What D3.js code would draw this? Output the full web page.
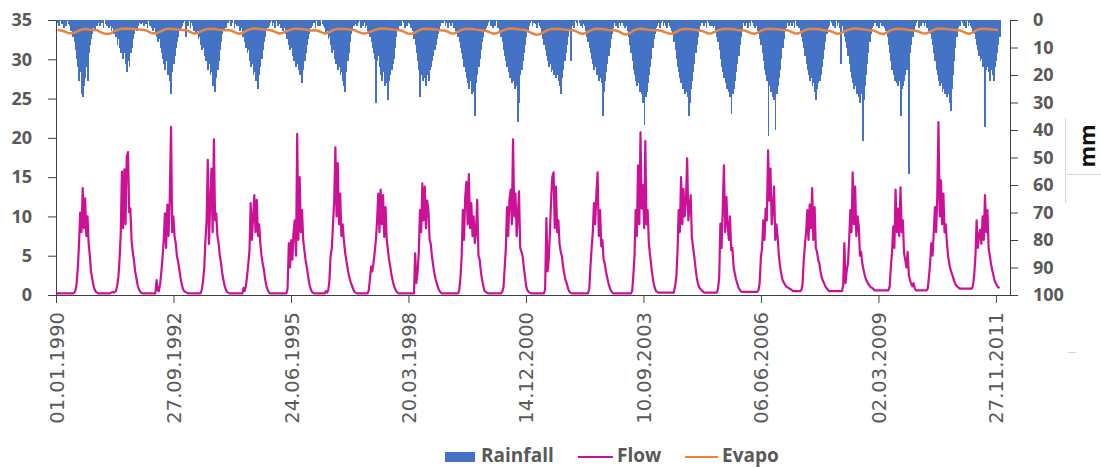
<!DOCTYPE html>
<html>
<head>
<meta charset="utf-8">
<script src="https://cdn.jsdelivr.net/npm/d3@7"></script>
<style>
  body { margin: 0; background: #fff; }
  svg { display: block; }
</style>
</head>
<body>
<div id="chart"></div>
<script>
// years of record, each year split in 36 dekads (1-10, 11-20, 21-end of month)
const years = [1990, 1991, 1992, 1993, 1994, 1995, 1996, 1997, 1998, 1999, 2000,
               2001, 2002, 2003, 2004, 2005, 2006, 2007, 2008, 2009, 2010, 2011];

// x axis tick labels (every 1000 days from 01.01.1990)
const xTickLabels = ['01.01.1990', '27.09.1992', '24.06.1995', '20.03.1998', '14.12.2000',
                     '10.09.2003', '06.06.2006', '02.03.2009', '27.11.2011'];
const flowTicks = [0, 5, 10, 15, 20, 25, 30, 35];
const rainTicks = [0, 10, 20, 30, 40, 50, 60, 70, 80, 90, 100];

// Flow (left axis), one value per dekad
const flowDekad = [
  [0.2,0.2,0.2,0.2,0.2,0.2,0.2,0.2,0.2,0.2,0.2,0.2,0.2,0.2,0.2,0.3,0.6,1.5,3.5,6.5,10.5,8,13.6,8.5,12.3,7.5,10,6.5,5,3,2,1.2,0.7,0.4,0.3,0.2],
  [0.2,0.2,0.2,0.2,0.2,0.2,0.2,0.2,0.2,0.2,0.3,0.4,0.3,0.4,0.5,1.2,2.3,4.5,7.8,15.7,8.5,16,9,17.6,18.2,10.5,11,7,5.5,4.5,3,2.2,1.3,0.8,0.5,0.3],
  [0.2,0.2,0.2,0.2,0.2,0.2,0.2,0.2,0.2,0.2,0.2,0.2,1.9,0.6,0.5,1.5,3,4.8,7,10.4,6,11.5,7.5,12.1,21.4,8,10,7.5,6.6,5,4.2,3.2,2.2,1.4,0.8,0.5],
  [0.4,0.3,0.2,0.2,0.2,0.2,0.2,0.2,0.2,0.2,0.2,0.2,0.2,0.2,0.7,1.8,3.5,7,9.5,17.2,6.5,12,16.1,8,19.8,9.5,10.4,7.5,6.6,5,4,2.8,1.9,1.2,0.7,0.4],
  [0.3,0.2,0.2,0.2,0.2,0.2,0.2,0.2,0.2,0.2,0.2,0.2,0.2,0.9,0.5,1.2,2.5,4,5.7,11.7,7,10,12.7,8,12.1,7.5,9,6.6,5,4,3.2,2,1.2,0.7,0.4,0.2],
  [0.2,0.2,0.2,0.2,0.2,0.2,0.2,0.2,0.2,0.2,0.2,0.2,0.2,0.2,0.8,6.6,3.5,7,4.5,8,9.5,5,20.5,7,15,8,10.8,7,5.7,4.5,3.5,2.5,1.5,0.9,0.5,0.3],
  [0.2,0.2,0.2,0.2,0.2,0.2,0.2,0.2,0.2,0.2,0.5,0.3,0.6,1.8,4.9,6,9.1,12,18.8,10,16.8,9,12.9,7.5,9,7,5.5,4.5,3.6,2.7,2,1.5,1.1,0.7,0.4,0.3],
  [0.2,0.2,0.2,0.2,0.2,0.2,0.2,0.2,0.2,0.2,0.6,2,3.6,3,4,5.5,7,9.5,12.9,8,13.4,9,12.7,7.4,11.2,7,5.7,4.5,3.6,2.6,1.8,1.2,0.8,0.5,0.3,0.2],
  [0.2,0.2,0.2,0.2,0.2,0.2,0.2,0.2,0.2,0.2,0.2,0.2,0.2,5.3,1.5,3,5.5,10.8,8,14.2,9.5,13.8,8.5,12,10.8,7,6.5,4.9,3.8,2.8,2,1.5,1,0.6,0.4,0.2],
  [0.2,0.2,0.2,0.2,0.2,0.2,0.2,0.2,0.2,0.2,0.2,0.2,0.2,0.2,0.6,2.3,5,10.8,7,12.5,14.4,9,15.4,8.5,11.7,7.5,10,6.6,8,12.1,5,4.5,3,2,1.2,0.6],
  [0.4,0.3,0.2,0.2,0.2,0.2,0.2,0.2,0.2,0.2,0.2,0.2,0.2,0.2,0.4,1,3.5,6,11.2,7.5,12,13.4,9,19.8,10,12.9,7.5,10,13.2,6,5.5,4.9,3.5,2.3,1.1,0.6],
  [0.4,0.3,0.2,0.2,0.2,0.2,0.2,0.2,0.2,0.2,0.2,0.2,0.2,0.2,0.7,9.8,3,4.5,8,12,15,15.6,8.5,13.8,8,9.5,6.5,5.5,4.9,3.6,2.6,1.9,1.5,0.9,0.5,0.3],
  [0.2,0.2,0.2,0.2,0.2,0.2,0.2,0.2,0.2,0.2,0.2,0.2,0.2,0.2,0.2,0.8,3.6,6,8,11.7,9,13,15.6,7.5,10.8,6.2,7,4.5,4,3,2.2,1.5,1,0.6,0.4,0.2],
  [0.2,0.2,0.2,0.2,0.2,0.2,0.2,0.2,0.2,0.2,0.2,0.2,0.2,0.2,0.2,0.5,2.5,5,10.8,7.5,16.5,9,20.7,11,14,8.5,19.6,9,10.8,6.6,5,3.6,2.4,1.5,0.9,0.5],
  [0.4,0.3,0.3,0.3,0.3,0.3,0.3,0.3,0.3,0.3,0.3,0.3,0.3,0.3,0.3,1.2,2.3,5.5,10.8,8,15,9,13.5,10,12,17.4,9.5,11,12.7,7.4,6,4.9,3.5,2.3,1.5,1],
  [0.8,0.6,0.5,0.3,0.3,0.3,0.3,0.3,0.3,0.3,0.3,0.3,0.3,0.3,0.3,0.8,2.3,9.1,6,11,16.5,8,12.5,9.1,7,10,5.7,6,3.6,2.8,2,1.5,1,0.7,0.5,0.4],
  [0.4,0.4,0.4,0.4,0.4,0.4,0.4,0.4,0.4,0.4,0.4,0.4,0.4,0.6,1.5,4.9,6,9.5,7,11,9.5,18.4,12,16.1,9,11,13.8,7,9,7.4,5,3.6,2.7,2,1.6,1.4],
  [1.1,1,0.9,0.8,0.7,0.6,0.5,0.5,0.5,0.5,0.5,0.5,0.5,0.6,1.4,4.5,6.5,8,10.8,7,11.5,8.5,13.6,7,11.2,6,5.5,4.5,4,3,2.2,1.8,1.5,1.1,0.9,0.7],
  [0.5,0.5,0.5,0.5,0.5,0.5,0.5,0.5,0.5,0.5,0.5,0.5,1.2,6.6,1.5,3.2,4,7,10.8,8,15.6,9,13.8,7.5,10,8.7,5,5.5,4,3.2,2.5,2,1.7,1.4,1.2,1],
  [0.9,0.8,0.6,0.6,0.6,0.6,0.6,0.6,0.6,0.6,0.6,0.6,0.6,0.6,0.6,1.1,3.6,5.5,8.7,6,13.4,8,11,7.5,13.7,8,9.5,5.3,4.5,3.5,5.5,2.5,1.9,1.4,1.1,1.5],
  [0.8,0.6,0.6,0.6,0.6,0.6,0.6,0.6,0.6,0.6,0.6,0.8,2.3,4,6.6,5,8,11.2,8,12.5,22,10,14.6,9,12.9,8,9,6.6,5,4,3.2,2.8,2.3,1.8,1.4,1.2],
  [1,0.9,0.8,0.8,0.8,0.8,0.8,0.8,0.8,0.8,0.8,0.8,0.8,1.2,2.5,5,9.5,6,7.5,8.3,6.5,10,7,12.7,8,10.8,6,5,4,3.2,2.5,1.8,1.5,1.2,1,0.85]
];

// Rainfall (right axis, mm), one value per dekad
const rainDekad = [
  [1,0,2,0.5,1.5,0,3,1,2,0.5,1.5,2,4,3,6,8,11,14,17,22,19,27,28,24,21,17,22,12,9,7,5,3,4,1.5,2,1],
  [2,0.5,1,3,0,1.5,2,0.5,3,2,4,3,5,4,6,9,7,10,12,11,14,12,16,19,15,17,12,10,7,5,3,4,2,1,0.5,1.5],
  [1,2,0,1.5,3,0.5,2,1,3,4,3,5,6,8,7,10,12,14,16,18,15,20,17,22,27,19,16,13,10,8,6,4,3,2,1,0.5],
  [6,1,2,0.5,3,1,2,4,3,5,4,7,6,9,11,10,13,15,14,18,16,20,19,24,22,26,21,18,15,11,8,5,4,2,3,1],
  [1,0.5,2,1,0,3,1.5,2,0.5,2,4,3,6,5,8,10,12,11,15,17,16,20,19,22,21,25,20,17,14,11,8,6,4,3,2,1],
  [0.5,2,1,3,0.5,1,2,1.5,3,2,4,3,5,7,6,9,11,10,13,15,14,17,16,18,20,19,23,18,15,12,9,7,5,3,2,1],
  [1,3,0.5,2,1,2,0,1.5,2,3,5,4,7,6,9,12,11,14,16,15,18,17,20,19,22,24,26,19,15,12,8,5,4,2,1.5,1],
  [2,1,0.5,3,1,2,1,3,2,4,5,6,8,10,12,14,30,15,13,17,20,22,19,24,21,23,29,22,20,18,16,14,10,6,4,2],
  [1,2,0.5,1,3,0,2,1,1.5,3,2,4,7,9,12,15,18,28,20,22,19,21,24,20,22,18,17,15,13,11,9,7,5,4,2,1],
  [1,0.5,2,1,3,1,0.5,2,1,3,2,4,3,6,8,10,12,14,17,19,21,23,25,22,27,24,26,35,23,20,17,14,11,8,6,4],
  [3,2,1,0.5,2,1,3,1,2,0.5,3,2,4,6,8,11,13,15,17,19,21,20,23,22,25,21,24,37,30,20,18,15,12,9,6,4],
  [2,1,0.5,2,1,0,1.5,3,1,2,3,5,7,9,11,13,15,17,16,19,18,20,19,21,20,22,24,27,21,18,15,12,9,6,4,15],
  [2,1,3,0.5,1,2,0,1,2,3,1.5,2,4,6,8,10,12,14,16,18,17,20,19,22,21,23,35,26,22,19,16,13,10,7,5,3],
  [1,2,0.5,3,1,2,1,0.5,2,3,2,4,6,9,12,15,18,20,22,24,23,26,25,27,30,38,28,26,23,20,17,14,10,7,5,3],
  [2,1,3,1,0.5,2,1,2,3,1,2,3,4,5,8,11,14,17,19,21,23,25,24,27,26,28,35,30,25,22,19,16,12,9,6,4],
  [2,1,0.5,2,1,3,0.5,1,2,1,2,3,2,4,6,8,11,14,17,19,21,23,25,24,26,28,34,27,25,22,19,16,13,9,6,4],
  [1,2,0.5,1,3,1,2,0.5,1,2,3,2,4,5,7,9,12,15,18,20,22,42,24,26,25,28,29,40,27,24,21,18,14,10,7,4],
  [3,1,2,0.5,1,2,1,3,0.5,2,1,3,4,6,8,10,13,16,18,20,22,21,24,23,26,29,25,23,22,20,17,14,11,8,5,3],
  [2,0.5,1,2,1,3,0.5,2,1,3,16,2,4,6,8,10,13,16,19,21,23,25,24,27,26,28,30,27,44,29,24,20,16,12,8,5],
  [3,2,1,0.5,2,1,3,1,2,0.5,2,3,4,6,9,12,15,18,20,22,21,23,24,22,35,25,24,22,20,18,16,56,12,9,6,4],
  [2,1,0.5,3,1,2,0.5,1,2,1,3,2,4,5,7,9,12,15,18,20,22,24,23,26,25,27,26,28,27,30,33,25,20,15,10,6],
  [3,1,2,0.5,1,2,1,3,0.5,2,1,2,3,4,5,7,9,11,13,15,14,17,16,39,18,17,19,22,18,20,22,17,15,12,9,6]
];

// Evapo (right axis, mm), one value per month
const evapoMonthly = [
  [3.6,3.8,4.2,4.7,4.8,4.5,3.8,3.4,3.3,3.5,3.6,3.7],
  [4.4,4.9,5.1,4.8,4.0,3.5,3.2,3.1,3.2,3.3,3.4,3.5],
  [3.6,3.9,4.6,4.9,4.7,4.0,3.4,3.2,3.3,3.4,3.5,3.6],
  [3.8,4.3,4.9,4.8,4.2,3.6,3.3,3.2,3.3,3.5,3.6,3.7],
  [3.7,4.1,4.7,5.0,4.5,3.8,3.3,3.1,3.2,3.4,3.5,3.6],
  [3.9,4.4,4.9,4.7,4.1,3.6,3.2,3.2,3.3,3.4,3.6,3.8],
  [3.7,4.0,4.6,4.9,4.4,3.7,3.3,3.2,3.3,3.4,3.5,3.7],
  [4.3,4.8,4.9,4.5,4.0,3.5,3.2,3.1,3.2,3.4,3.5,3.6],
  [3.8,4.4,4.9,5.0,4.6,3.8,3.3,3.2,3.3,3.4,3.5,3.7],
  [3.8,4.2,4.8,4.9,4.3,3.6,3.3,3.2,3.3,3.5,3.6,3.8],
  [4.0,4.6,5.0,4.7,4.1,3.6,3.2,3.1,3.2,3.4,3.5,3.7],
  [4.4,5.0,5.4,5.1,4.4,3.7,3.3,3.2,3.3,3.4,3.5,3.6],
  [3.7,4.1,4.8,5.0,4.6,3.8,3.3,3.2,3.3,3.4,3.6,3.7],
  [3.8,4.2,4.9,5.3,4.8,3.9,3.4,3.2,3.3,3.5,3.6,3.7],
  [3.7,4.0,4.5,4.9,5.0,4.3,3.6,3.3,3.3,3.4,3.5,3.7],
  [3.9,4.4,4.9,4.8,4.2,3.6,3.3,3.2,3.3,3.4,3.6,3.7],
  [3.8,4.3,4.8,5.0,4.5,3.7,3.3,3.2,3.3,3.4,3.5,3.6],
  [3.7,4.2,4.8,4.9,4.4,3.7,3.3,3.2,3.3,3.4,3.6,3.8],
  [4.0,4.5,5.0,4.8,4.2,3.6,3.3,3.1,3.2,3.4,3.5,3.7],
  [3.8,4.3,4.9,5.1,4.5,3.7,3.3,3.2,3.3,3.4,3.6,3.7],
  [3.9,4.4,4.8,4.9,4.3,3.6,3.2,3.1,3.2,3.4,3.5,3.6],
  [3.7,4.1,4.7,5.0,4.5,3.7,3.3,3.2,3.3,3.4,3.5,3.6]
];

const width = 1101;
const height = 468;
const margin = {top: 20, right: 91, bottom: 173, left: 56};
const grey = '#595959';
const axisColor = '#404040';
const rainColor = '#4472c4';
const flowColor = '#cc1196';
const evapoColor = '#e8843f';
const DAY = 86400000;

const svg = d3.select('#chart').append('svg')
    .attr('viewBox', [0, 0, width, height])
    .attr('width', width)
    .attr('height', height)
    .style('font-family', '"Open Sans", sans-serif');

const x = d3.scaleUtc()
    .domain([Date.UTC(1990, 0, 1), Date.UTC(2012, 2, 26)])
    .range([margin.left, width - margin.right]);

const yFlow = d3.scaleLinear()
    .domain([0, 35])
    .range([height - margin.bottom, margin.top]);

const yRain = d3.scaleLinear()
    .domain([0, 100])
    .range([margin.top, height - margin.bottom]);

function dekadStart(yr, d) {
    return Date.UTC(yr, Math.floor(d / 3), 1 + 10 * (d % 3));
}
function dekadEnd(yr, d) {
    return d % 3 === 2 ? Date.UTC(yr, Math.floor(d / 3) + 1, 1) : dekadStart(yr, d) + 10 * DAY;
}

const rainRows = years.flatMap((yr, i) => rainDekad[i].map((v, d) =>
    ({start: dekadStart(yr, d), end: dekadEnd(yr, d), value: v})));
const flowRows = years.flatMap((yr, i) => flowDekad[i].map((v, d) =>
    ({date: dekadStart(yr, d) + 5 * DAY, value: v})));
const evapoRows = years.flatMap((yr, i) => evapoMonthly[i].map((v, m) =>
    ({date: Date.UTC(yr, m, 15), value: v})));

// rainfall bars hang from the top (reversed right axis)
svg.append('g')
    .attr('shape-rendering', 'crispEdges')
    .selectAll('rect')
    .data(rainRows)
    .join('rect')
    .attr('x', d => x(d.start))
    .attr('width', d => x(d.end) - x(d.start) + 0.6)
    .attr('y', yRain(0))
    .attr('height', d => yRain(d.value) - yRain(0))
    .attr('fill', rainColor);

svg.append('path')
    .datum(evapoRows)
    .attr('fill', 'none')
    .attr('stroke', evapoColor)
    .attr('stroke-width', 2.5)
    .attr('stroke-linejoin', 'round')
    .attr('d', d3.line().x(d => x(d.date)).y(d => yRain(d.value)));

svg.append('path')
    .datum(flowRows)
    .attr('fill', 'none')
    .attr('stroke', flowColor)
    .attr('stroke-width', 2.2)
    .attr('stroke-linejoin', 'round')
    .attr('d', d3.line().x(d => x(d.date)).y(d => yFlow(d.value)));

// axes
function styleAxis(g) {
    g.select('.domain').attr('stroke', axisColor);
    g.selectAll('.tick line').attr('stroke', axisColor);
    g.selectAll('.tick text').attr('fill', grey);
}

svg.append('g')
    .attr('transform', `translate(${margin.left},0)`)
    .call(d3.axisLeft(yFlow).tickValues(flowTicks).tickSize(8).tickSizeOuter(0).tickPadding(16))
    .call(styleAxis)
    .call(g => g.selectAll('.tick text')
        .attr('font-family', '"Open Sans", sans-serif')
        .attr('font-weight', 700)
        .attr('font-size', 18));

svg.append('g')
    .attr('transform', `translate(${width - margin.right},0)`)
    .call(d3.axisRight(yRain).tickValues(rainTicks).tickSize(8).tickSizeOuter(0).tickPadding(15))
    .call(styleAxis)
    .call(g => g.selectAll('.tick text')
        .attr('font-family', '"Open Sans", sans-serif')
        .attr('font-weight', 700)
        .attr('font-size', 18));

const parseDay = d3.utcParse('%d.%m.%Y');
const tickDates = xTickLabels.map(parseDay);

svg.append('g')
    .attr('transform', `translate(0,${height - margin.bottom})`)
    .call(d3.axisBottom(x).tickValues(tickDates).tickSize(8).tickSizeOuter(0)
        .tickFormat((d, i) => xTickLabels[i]))
    .call(styleAxis)
    .call(g => g.selectAll('.tick text')
        .attr('font-family', '"DejaVu Sans", sans-serif')
        .attr('font-size', 19.5)
        .attr('transform', 'rotate(-90)')
        .attr('text-anchor', 'end')
        .attr('x', -17)
        .attr('y', 0)
        .attr('dy', '0.36em'));

// right axis title
svg.append('text')
    .attr('transform', 'translate(1095,146) rotate(-90)')
    .attr('text-anchor', 'middle')
    .attr('font-weight', 700)
    .attr('font-size', 22)
    .attr('fill', '#111')
    .text('mm');

// faint frame pieces left around the title
svg.append('line').attr('x1', 1065.5).attr('x2', 1065.5).attr('y1', 118).attr('y2', 203)
    .attr('stroke', '#d6d6d6');
svg.append('line').attr('x1', 1067).attr('x2', 1101).attr('y1', 174.5).attr('y2', 174.5)
    .attr('stroke', '#d6d6d6');
svg.append('line').attr('x1', 1068).attr('x2', 1076).attr('y1', 352.5).attr('y2', 352.5)
    .attr('stroke', '#d6d6d6');

// legend
const legend = svg.append('g')
    .attr('font-weight', 700)
    .attr('font-size', 19)
    .attr('fill', grey);

legend.append('rect').attr('x', 445).attr('y', 452).attr('width', 30).attr('height', 10)
    .attr('fill', rainColor);
legend.append('text').attr('x', 481).attr('y', 462).text('Rainfall');

legend.append('line').attr('x1', 578).attr('x2', 613).attr('y1', 457).attr('y2', 457)
    .attr('stroke', flowColor).attr('stroke-width', 2);
legend.append('text').attr('x', 617).attr('y', 462).text('Flow');

legend.append('line').attr('x1', 685).attr('x2', 718).attr('y1', 457).attr('y2', 457)
    .attr('stroke', evapoColor).attr('stroke-width', 2);
legend.append('text').attr('x', 722).attr('y', 462).text('Evapo');
</script>
</body>
</html>
